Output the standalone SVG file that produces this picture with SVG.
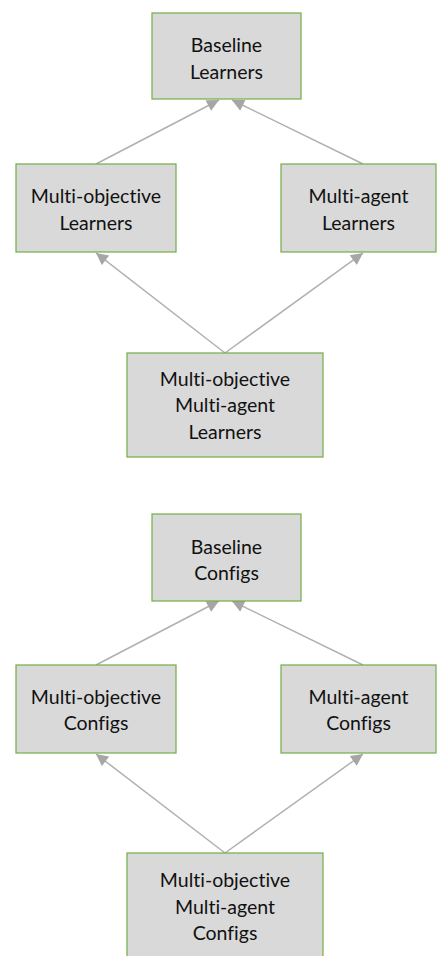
<svg xmlns="http://www.w3.org/2000/svg" width="437" height="956" viewBox="0 0 437 956">
<style>
.box{fill:#d9d9d9;stroke:#70ad47;stroke-width:1.2}
.lbl{font-family:Lato,"Open Sans",sans-serif;font-size:19.5px;fill:#111111;text-anchor:middle;font-variant-ligatures:none;font-feature-settings:"liga" 0}
.con{stroke:#b0b0b0;stroke-width:1.5;fill:none;marker-end:url(#ah)}
</style>
<defs>
<marker id="ah" viewBox="0 0 10 10" refX="10" refY="5" markerWidth="13" markerHeight="12" markerUnits="userSpaceOnUse" orient="auto">
<path d="M0,0 L10,5 L0,10 z" fill="#a6a6a6"/>
</marker>
</defs>
<rect width="437" height="956" fill="#ffffff"/>
<g id="connectors">
<line class="con" x1="96" y1="164" x2="219" y2="100"/>
<line class="con" x1="363" y1="164" x2="232" y2="100"/>
<line class="con" x1="225" y1="353" x2="96" y2="253"/>
<line class="con" x1="225" y1="353" x2="363" y2="253"/>
<line class="con" x1="96" y1="665" x2="219" y2="601"/>
<line class="con" x1="363" y1="665" x2="232" y2="601"/>
<line class="con" x1="225" y1="853" x2="96" y2="754"/>
<line class="con" x1="225" y1="853" x2="363" y2="754"/>
</g>
<g id="baseline-learners">
<rect class="box" x="152" y="13" width="149" height="86"/>
<text class="lbl" x="226.5" y="52">Baseline</text>
<text class="lbl" x="226.5" y="79">Learners</text>
</g>
<g id="mo-learners">
<rect class="box" x="16" y="164" width="160" height="88"/>
<text class="lbl" x="96" y="203">Multi-objective</text>
<text class="lbl" x="96" y="230">Learners</text>
</g>
<g id="ma-learners">
<rect class="box" x="281" y="164" width="155" height="88"/>
<text class="lbl" x="358.5" y="203">Multi-agent</text>
<text class="lbl" x="358.5" y="230">Learners</text>
</g>
<g id="moma-learners">
<rect class="box" x="127" y="353" width="196" height="104"/>
<text class="lbl" x="225" y="386">Multi-objective</text>
<text class="lbl" x="225" y="412">Multi-agent</text>
<text class="lbl" x="225" y="439">Learners</text>
</g>
<g id="baseline-configs">
<rect class="box" x="152" y="514" width="149" height="87"/>
<text class="lbl" x="226.5" y="554">Baseline</text>
<text class="lbl" x="226.5" y="580">Configs</text>
</g>
<g id="mo-configs">
<rect class="box" x="16" y="665" width="160" height="88"/>
<text class="lbl" x="96" y="704">Multi-objective</text>
<text class="lbl" x="96" y="730">Configs</text>
</g>
<g id="ma-configs">
<rect class="box" x="281" y="665" width="155" height="88"/>
<text class="lbl" x="358.5" y="704">Multi-agent</text>
<text class="lbl" x="358.5" y="730">Configs</text>
</g>
<g id="moma-configs">
<rect class="box" x="127" y="853" width="196" height="110"/>
<text class="lbl" x="225" y="887">Multi-objective</text>
<text class="lbl" x="225" y="914">Multi-agent</text>
<text class="lbl" x="225" y="940">Configs</text>
</g>
</svg>
